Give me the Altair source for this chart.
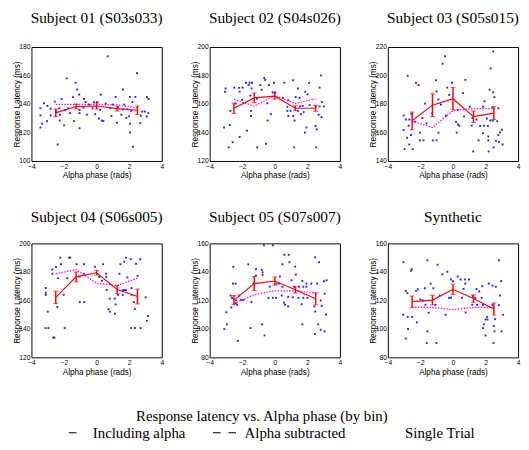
import altair as alt
import pandas as pd

# ---------------- data ----------------
bin_centers = [-2.51, -1.26, 0.0, 1.26, 2.51]

titles = ["Subject 01 (S03s033)", "Subject 02 (S04s026)", "Subject 03 (S05s015)",
          "Subject 04 (S06s005)", "Subject 05 (S07s007)", "Synthetic"]

y_domains = [[100, 180], [120, 200], [140, 220], [120, 200], [80, 160], [80, 160]]

# red: including alpha (mean per bin) and its error
red_01 = [133.8, 138.2, 138.6, 136.8, 135.6]
err_01 = [2.7, 1.7, 2.2, 1.7, 3.0]
mag_01 = [139.8, 139.8, 139.8, 139.4, 137.2]

red_02 = [157.0, 164.3, 165.5, 157.0, 157.0]
err_02 = [3.6, 3.4, 2.1, 1.7, 2.1]
mag_02 = [163.2, 158.5, 165.9, 160.3, 163.7]

red_03 = [168.2, 179.2, 183.7, 171.1, 173.6]
err_03 = [6.2, 8.0, 7.8, 4.0, 4.5]
mag_03 = [168.0, 163.5, 175.4, 176.7, 176.7]

red_04 = [162.1, 176.5, 179.4, 167.6, 162.7]
err_04 = [4.4, 3.5, 1.6, 2.8, 5.2]
mag_04 = [178.7, 181.6, 172.0, 170.5, 175.6]

red_05 = [120.2, 131.8, 133.6, 127.4, 121.1]
err_05 = [3.2, 4.9, 2.9, 2.2, 4.2]
mag_05 = [117.8, 124.0, 126.7, 126.7, 125.1]

red_syn = [119.1, 120.2, 127.8, 121.3, 114.0]
err_syn = [4.0, 3.4, 3.6, 2.6, 4.2]
mag_syn = [115.1, 115.1, 113.5, 115.1, 115.1]

# single trials (phase, latency)
x_01 = [0.68, 2.48, -1.84, -1.29, -1.19, 1.62, -1.07, 1.17, 2.05, 2.38, 3.09, 3.19, -2.15, -0.78, 0.26,
        -2.57, -1.45, -0.68, -0.46, -0.17, 0.03, 0.56, 1.0, 1.7, 2.19, -3.23, -3.02, -3.45, -2.82, -2.29,
        -1.94, -1.74, -1.05, -0.8, -0.25, 0.22, 0.83, 1.32, 1.62, 1.89, 2.13, 2.8, 2.96, 3.17, -3.45,
        -2.82, -2.49, -2.25, -1.64, -1.05, -0.6, -0.09, 0.15, 0.42, 0.91, 1.52, 1.82, 1.99, 2.72, 3.07,
        -3.35, -3.04, -2.27, -2.0, -1.39, -1.05, 0.32, 1.25, 2.05, 2.68, -3.45, 2.05, -2.39, 2.23]
y_01 = [173.5, 161.6, 158.0, 154.9, 150.2, 150.2, 146.6, 145.0, 145.0, 145.0, 144.8, 143.5, 143.5, 143.5, 146.6,
        141.7, 144.8, 141.4, 139.6, 141.2, 141.4, 140.3, 139.6, 139.6, 141.4, 140.5, 138.7, 137.0, 136.7, 137.0,
        135.6, 137.0, 135.8, 137.4, 137.0, 135.8, 137.0, 137.4, 136.3, 136.3, 135.2, 134.7, 134.7, 133.6, 132.0,
        132.0, 135.2, 132.5, 133.6, 133.6, 132.5, 132.9, 129.8, 128.0, 131.6, 132.5, 130.2, 131.3, 131.8, 131.3,
        126.2, 128.0, 128.4, 125.0, 128.0, 123.0, 128.4, 126.9, 126.2, 126.6, 123.5, 120.0, 111.6, 110.0]

x_02 = [2.83, -0.65, -0.59, -1.77, -1.55, -1.4, -0.05, 1.13, 0.58, 2.11, -1.61, -0.89, -0.36, -3.02, -2.49,
        -2.2, -1.98, 2.75, -3.06, -2.16, -1.42, -0.81, -0.13, 0.01, 1.42, 1.87, 2.01, -1.5, 1.28, 0.5,
        0.83, 1.52, -2.0, -1.1, 2.89, -2.4, -0.46, 0.77, 1.54, 1.71, 2.14, 2.5, 2.75, 3.01, -2.73,
        -1.46, 0.77, 0.97, 1.42, 1.77, -0.24, -1.46, 0.83, 1.13, 1.6, 2.69, 2.87, -0.44, 1.22, 2.5,
        -3.12, -2.77, 1.95, -1.71, 1.85, 2.58, -2.16, -2.59, -0.54, -2.83, -1.08, 1.19, 2.54]
y_02 = [180.0, 178.3, 176.9, 174.9, 174.9, 174.9, 174.9, 176.7, 174.9, 174.9, 173.3, 173.3, 173.3, 170.9, 171.5,
        171.3, 171.5, 171.5, 168.6, 168.6, 170.9, 170.0, 168.2, 168.2, 170.9, 168.6, 166.8, 165.9, 165.0, 164.3,
        162.6, 164.3, 162.9, 163.7, 161.4, 160.3, 160.5, 158.0, 158.3, 158.7, 159.2, 158.3, 158.3, 158.3, 155.2,
        155.2, 155.2, 155.2, 155.2, 154.3, 152.9, 151.6, 151.6, 151.6, 152.9, 152.5, 150.7, 148.4, 148.4, 144.6,
        143.5, 145.3, 143.5, 141.3, 139.9, 142.2, 136.8, 133.2, 132.1, 129.6, 129.6, 129.6, 129.6]

x_03 = [2.47, -0.49, -0.64, 2.31, -2.78, -1.05, 0.76, -2.27, -2.12, -0.06, -0.35, 2.25, 2.47, -1.01, 0.62,
        2.54, -0.23, 1.94, -0.89, -1.71, 1.84, -0.74, 2.43, 0.29, 2.78, 1.03, -1.28, -2.56, -3.03, -2.89,
        -2.68, -2.35, -1.88, -0.43, 0.68, 1.2, 0.19, 0.31, 1.44, 2.08, 2.29, 2.45, 2.72, -1.63, -2.72,
        1.67, 1.9, 2.14, 0.39, 1.15, -3.03, 3.01, 2.89, -2.58, -2.02, -0.89, 0.23, 1.84, 2.78, 2.17,
        -2.82, -2.02, -1.81, -1.24, -1.01, 1.57, 2.17, 2.64, 2.82, 3.05, -2.68, 2.49, -2.97, -2.47, 1.24, 2.19]
y_03 = [216.9, 213.5, 208.3, 205.0, 199.8, 196.7, 196.9, 194.9, 193.3, 194.9, 191.5, 190.0, 188.2, 188.8, 187.7,
        184.8, 186.4, 181.9, 183.2, 180.3, 178.1, 179.6, 177.6, 175.8, 177.0, 178.1, 173.4, 173.1, 172.0, 169.1,
        169.1, 167.5, 170.2, 171.8, 171.3, 170.2, 167.5, 165.7, 169.1, 169.8, 168.4, 168.4, 167.9, 166.4, 164.8,
        164.6, 164.8, 164.6, 164.8, 164.8, 161.7, 161.9, 160.1, 158.3, 159.9, 159.9, 159.9, 159.5, 158.3, 157.2,
        156.3, 154.5, 154.5, 154.5, 154.5, 154.5, 154.5, 154.1, 153.4, 151.6, 151.6, 149.6, 148.3, 148.3, 146.7, 146.7]

x_04 = [-2.23, -1.68, -1.62, 1.8, 2.09, 2.68, -2.49, -2.19, -1.23, -0.78, 0.4, 1.46, 2.42, -0.11, 1.7,
        -2.72, -2.72, -2.37, -1.8, -1.05, -0.78, 0.16, 0.58, 0.6, 1.4, 1.89, 2.52, 0.32, -3.12, -3.12,
        -3.12, -2.02, 0.62, 1.6, 1.7, 1.8, 2.15, 1.32, 1.6, 2.15, 0.81, 1.11, 3.01, -2.41, 2.29,
        1.17, -1.03, -0.76, 0.72, 0.81, 1.13, 2.35, 3.15, 3.09, -3.0, -3.14, -2.96, -1.96, 2.13, 2.35,
        2.7, -2.66, -2.59]
y_04 = [190.0, 190.0, 190.0, 190.0, 188.9, 188.9, 183.4, 185.4, 185.4, 185.4, 185.4, 185.4, 185.6, 183.6, 187.1,
        181.6, 178.7, 175.6, 175.6, 176.7, 178.7, 176.5, 178.7, 176.5, 178.7, 176.1, 177.2, 173.8, 168.7, 165.4,
        163.9, 163.9, 167.2, 167.2, 167.2, 167.2, 168.7, 163.9, 163.9, 163.9, 161.2, 161.2, 162.1, 155.4, 158.8,
        157.2, 158.8, 158.8, 153.9, 152.1, 150.6, 153.9, 149.0, 145.7, 152.1, 140.6, 140.6, 140.6, 140.6, 140.6,
        140.6, 133.9, 133.9]

x_05 = [-0.67, -0.12, 0.59, 0.86, 2.47, 0.9, 2.71, -1.63, 0.47, -2.55, -1.16, 1.25, -0.8, -0.75, 1.29,
        -1.16, -0.75, 0.31, 1.02, 3.18, 3.02, 1.69, -2.57, -2.41, -1.29, 0.12, 0.27, 1.94, 2.24, 2.59,
        1.49, 1.75, 1.94, -0.31, 0.47, 1.2, -2.71, -2.18, 0.08, -0.39, -0.12, 0.43, 0.82, 1.45, 1.75,
        2.0, 1.1, -2.63, 3.06, -2.37, -2.08, -1.92, -1.43, 2.82, -2.39, -2.31, 0.57, 0.63, 0.82, 1.65,
        2.43, 2.88, -2.67, 2.49, -2.98, 3.14, -2.94, -0.78, 1.69, 2.67, -3.1, -1.49, 2.82, 3.06, 2.47,
        -0.63, -2.27]
y_05 = [158.7, 158.7, 152.0, 152.0, 150.2, 146.8, 146.8, 145.3, 145.3, 143.5, 141.9, 143.7, 141.5, 139.7, 138.1,
        137.4, 137.9, 136.8, 134.1, 134.1, 133.4, 133.6, 131.8, 131.8, 131.8, 131.8, 131.8, 131.8, 131.8, 131.8,
        129.6, 129.6, 129.6, 129.6, 129.6, 129.6, 123.4, 123.4, 121.8, 121.8, 121.8, 123.4, 122.5, 121.8, 121.8,
        121.8, 122.2, 121.8, 124.7, 120.0, 120.2, 120.2, 118.9, 120.0, 118.0, 116.9, 118.4, 116.9, 115.8, 117.3,
        115.8, 116.2, 115.1, 112.2, 111.7, 110.0, 103.2, 103.2, 103.2, 103.2, 99.9, 100.6, 99.4, 98.3, 96.5,
        95.4, 91.6]

x_syn = [-3.04, -1.57, 2.82, -0.94, -2.53, -2.57, 2.96, 0.29, -0.35, -0.65, 0.47, 0.73, 0.98, -0.12, 0.0,
         -1.37, -1.73, -2.16, -2.27, -1.2, -0.82, -0.24, -0.12, 0.65, 0.75, 1.45, 1.61, 2.2, 2.43, 2.63,
         1.8, 0.55, 1.22, 1.37, 1.76, 2.88, -2.9, -2.8, -1.86, -2.0, -1.69, -1.08, 1.18, 1.47, 1.84,
         2.43, 2.82, -1.49, -0.45, 0.78, -3.06, -2.78, -2.51, 3.08, 2.1, 2.0, 2.12, 2.59, -2.22, 1.9,
         2.51, -2.76, 1.84, 2.55, 2.98, -1.57, 2.0, -2.9, -1.61, -1.02, 2.49]
y_syn = [146.8, 148.2, 148.2, 145.0, 141.9, 140.8, 133.6, 136.8, 140.1, 138.3, 134.7, 134.7, 134.7, 134.7, 133.4,
         131.8, 128.5, 127.8, 126.7, 128.5, 123.4, 121.8, 121.8, 128.0, 131.8, 128.0, 126.3, 131.8, 130.3, 129.6,
         130.0, 121.8, 122.9, 121.8, 121.8, 123.4, 126.7, 125.1, 120.0, 120.7, 116.9, 116.9, 116.9, 116.9, 116.9,
         116.9, 116.7, 111.3, 109.9, 111.5, 109.9, 108.4, 108.4, 109.9, 108.4, 106.6, 106.6, 106.8, 104.6, 103.2,
         102.1, 99.9, 100.6, 98.3, 98.3, 98.3, 95.4, 93.2, 90.1, 90.1, 90.1]

main_title = "Response latency vs. Alpha phase (by bin)"
legend_labels = ["Including alpha", "Alpha subtracted", "Single Trial"]

panels = [
    (x_01, y_01, red_01, err_01, mag_01),
    (x_02, y_02, red_02, err_02, mag_02),
    (x_03, y_03, red_03, err_03, mag_03),
    (x_04, y_04, red_04, err_04, mag_04),
    (x_05, y_05, red_05, err_05, mag_05),
    (x_syn, y_syn, red_syn, err_syn, mag_syn),
]

# ---------------- chart ----------------
SERIF = "Liberation Serif"
SANS = "Liberation Sans"


def make_panel(i, width, title_offset):
    xs, ys, red, err, mag = panels[i]
    lo_d, hi_d = y_domains[i]
    pts = pd.DataFrame({"phase": xs, "rt": ys})
    bins = pd.DataFrame({
        "phase": bin_centers,
        "red": red,
        "lo": [r - e for r, e in zip(red, err)],
        "hi": [r + e for r, e in zip(red, err)],
        "mag": mag,
    })
    xsc = alt.Scale(domain=[-4, 4], nice=False, zero=False, padding=0)
    ysc = alt.Scale(domain=[lo_d, hi_d], nice=False, zero=False, padding=0)
    xax = alt.Axis(values=[-4, -2, 0, 2, 4], title="Alpha phase (rads)", format="d")
    yax = alt.Axis(values=list(range(lo_d, hi_d + 1, 20)), title="Response Latency (ms)")

    scatter = alt.Chart(pts).mark_square(size=4, color="#0000ff", opacity=0.85).encode(
        x=alt.X("phase:Q", scale=xsc, axis=xax),
        y=alt.Y("rt:Q", scale=ysc, axis=yax),
    )
    base = alt.Chart(bins).encode(x=alt.X("phase:Q", scale=xsc, axis=xax))
    magline = base.mark_line(color="#ff00ff", strokeDash=[1.5, 1.5], strokeWidth=1.3).encode(
        y=alt.Y("mag:Q", scale=ysc, axis=yax))
    redline = base.mark_line(color="#ff0000", strokeWidth=1.2).encode(
        y=alt.Y("red:Q", scale=ysc, axis=yax))
    rules = base.mark_rule(color="#ff0000", strokeWidth=1.5).encode(
        y=alt.Y("lo:Q", scale=ysc, axis=yax), y2="hi:Q")
    cap_lo = base.mark_tick(color="#ff0000", size=5, thickness=1, orient="horizontal").encode(
        y=alt.Y("lo:Q", scale=ysc, axis=yax))
    cap_hi = base.mark_tick(color="#ff0000", size=5, thickness=1, orient="horizontal").encode(
        y=alt.Y("hi:Q", scale=ysc, axis=yax))

    return alt.layer(scatter, magline, rules, cap_lo, cap_hi, redline).properties(
        width=width, height=119,
        title=alt.TitleParams(titles[i], anchor="middle", frame="group",
                              baseline="alphabetic", offset=title_offset, fontSize=16),
    )


row1 = alt.hconcat(make_panel(0, 136, 5.5), make_panel(1, 136, 5.5), make_panel(2, 136, 5.5), spacing=26)
row2 = alt.hconcat(make_panel(3, 136, 2.5), make_panel(4, 136, 2.5), make_panel(5, 136, 2.5), spacing=26)

# legend: symbols drawn as black strokes, like the reference's "–", "– –" and an empty one
leg = alt.Chart(pd.DataFrame({"series": legend_labels})).mark_line(
    color="black", strokeWidth=1.1
).encode(
    x=alt.value(0), y=alt.value(0),
    strokeDash=alt.StrokeDash(
        "series:N",
        scale=alt.Scale(domain=legend_labels, range=[[0, 8, 8, 8], [8, 8, 8], [0, 30]]),
        legend=alt.Legend(
            title=None, orient="none", legendX=30, legendY=389.5, direction="horizontal",
            symbolType="stroke", symbolSize=576, symbolStrokeColor="black", symbolStrokeWidth=1.1,
            labelFont=SERIF, labelFontSize=15.5, labelColor="black", labelOffset=8,
            columnPadding=25.5, padding=0, labelLimit=0,
        ),
    ),
).properties(
    width=500, height=1,
    view=alt.ViewBackground(stroke="transparent"),
    title=alt.TitleParams(main_title, anchor="middle", frame="group", baseline="alphabetic",
                          offset=0, fontSize=15.5, dx=-9.5),
)

chart = alt.vconcat(alt.vconcat(row1, row2, spacing=30), leg, spacing=33.5).properties(
    padding={"left": 3.5, "top": -8, "right": 0, "bottom": 0}
).configure_axisX(
    labelFlush=False, tickSize=0, labelPadding=1.5, titlePadding=2,
).configure_axisY(
    tickSize=0, labelPadding=1.5, titlePadding=-2.5,
).configure_axis(
    labelFont=SANS, labelFontSize=7, labelColor="black",
    titleFont=SANS, titleFontSize=8.5, titleFontWeight="normal", titleColor="black",
    ticks=False, domain=False, grid=False,
).configure_view(
    stroke="black", strokeWidth=1
).configure_title(
    font=SERIF, fontSize=15, fontWeight="normal", color="black"
)

chart.save("out.html", embed_options={"renderer": "svg", "actions": False})
